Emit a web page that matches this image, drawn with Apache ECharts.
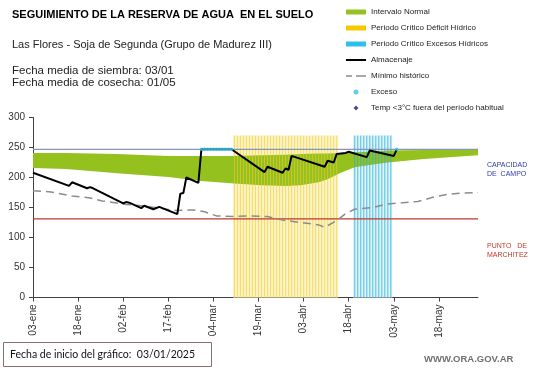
<!DOCTYPE html>
<html><head><meta charset="utf-8">
<script src="https://cdn.jsdelivr.net/npm/echarts@6/dist/echarts.min.js"></script>
<style>html,body{margin:0;padding:0;background:#fff}#c{width:541px;height:368px}</style>
</head><body><div id="c"></div>
<script>
// ---------- DATA ----------
const MONTHS = ['ene','feb','mar','abr','may','jun','jul','ago','sep','oct','nov','dic'];
const firstDate = [2025, 0, 3];   // 03/01/2025
const dayCount = 149;             // 03-ene .. 31-may

const yTicks = [0, 50, 100, 150, 200, 250, 300];

// Intervalo normal (green band)
const bandDates = ['03-ene','14-ene','31-ene','17-feb','28-feb','11-mar','20-mar','28-mar','02-abr','08-abr','11-abr','15-abr','20-abr','25-abr','01-may','13-may','31-may'];
const bandUpper = [241,241,239,236,236,236,237,238,239,240,240,241,242,243,245,246,246];
const bandLower = [216,214,207,201,194,190,187,186,187,192,197,207,217,221,225,231,237];

// Almacenaje
const storeDates = ['03-ene','15-ene','16-ene','21-ene','22-ene','23-ene','02-feb','03-feb','04-feb','08-feb','09-feb','12-feb','14-feb','20-feb','21-feb','22-feb','23-feb','27-feb','28-feb','10-mar','21-mar','22-mar','27-mar','28-mar','29-mar','30-mar','10-abr','11-abr','13-abr','14-abr','17-abr','18-abr','24-abr','25-abr','03-may','04-may'];
const storeValues = [208,186,192,182,184,182,157,159,158,149,153,147,151,139,173,174,200,191,247,247,209,218,208,215,213,236,218,228,225,239,241,243,234,245,236,247];

// Mínimo histórico
const minDates = ['03-ene','09-ene','16-ene','22-ene','26-ene','03-feb','08-feb','14-feb','19-feb','25-feb','01-mar','05-mar','11-mar','16-mar','22-mar','27-mar','02-abr','08-abr','10-abr','14-abr','17-abr','20-abr','26-abr','01-may','06-may','11-may','16-may','21-may','25-may','31-may'];
const minValues = [178,176,169,166,161,155,153,149,145,146,143,136,135,136,135,129,125,121,117,128,140,147,150,156,158,160,167,172,174,175];

// Exceso
const excessDates = ['28-feb','01-mar','02-mar','03-mar','04-mar','05-mar','06-mar','07-mar','08-mar','09-mar','10-mar','04-may'];
const excessValues = [247,247,247,247,247,247,247,247,247,247,247,247];

// Temp < 3°C (no occurrences)
const frostDates = [];
const frostValues = [];

// Periodos críticos
const deficitPeriod = ['11-mar','14-abr'];
const excessPeriod = ['20-abr','02-may'];
const periodTop = 270;

// Reference levels
const fieldCapacity = 247;
const wiltingPoint = 131;

// ---------- BUILD ----------
function fmt(d){ return String(d.getUTCDate()).padStart(2,'0') + '-' + MONTHS[d.getUTCMonth()]; }
const categories = [];
for (let i = 0; i < dayCount; i++) categories.push(fmt(new Date(Date.UTC(firstDate[0], firstDate[1], firstDate[2] + i))));
function periodData(p){
  const a = categories.indexOf(p[0]), b = categories.indexOf(p[1]);
  return categories.map((c, i) => (i >= a && i <= b) ? periodTop : null);
}
const pairs = (xs, ys) => xs.map((x, i) => [x, ys[i]]);
const levelLine = v => [[categories[0], v], [categories[categories.length - 1], v]];
const bandBase = pairs(bandDates, bandLower);
const bandDiff = bandDates.map((x, i) => [x, bandUpper[i] - bandLower[i]]);

const FONT = '"Liberation Sans", Arial, sans-serif';
const chart = echarts.init(document.getElementById('c'), null, {renderer: 'canvas'});
chart.setOption({
  animation: false,
  backgroundColor: '#fff',
  grid: {left: 33, right: 63, top: 117.5, bottom: 70.5, containLabel: false, outerBoundsMode: 'none'},
  legend: {
    orient: 'vertical', left: 346, top: 7, padding: 0,
    itemWidth: 20, itemHeight: 5, itemGap: 6, selectedMode: false,
    textStyle: {fontSize: 8, color: '#222', fontFamily: FONT, lineHeight: 10},
    data: [
      {name: 'Intervalo Normal', icon: 'rect', itemStyle: {color: '#95c11f', borderWidth: 0}},
      {name: 'Periodo Crítico Déficit Hídrico', icon: 'rect', itemStyle: {color: '#f5c800', borderWidth: 0}},
      {name: 'Periodo Crítico Excesos Hídricos', icon: 'rect', itemStyle: {color: '#2ec0ec', borderWidth: 0}},
      {name: 'Almacenaje', icon: 'path://M0,0H20V2H0Z', itemStyle: {color: '#000', borderWidth: 0}},
      {name: 'Mínimo histórico', icon: 'path://M0,0H6V1.6H0Z M10,0H20V1.6H10Z', itemStyle: {color: '#8c8c8c', borderWidth: 0}},
      {name: 'Exceso', icon: 'circle', itemStyle: {color: '#33c3ee', borderWidth: 0}},
      {name: 'Temp <3°C fuera del período habitual', icon: 'path://M0,-1L1,0L0,1L-1,0Z', itemStyle: {color: '#1a237e', borderWidth: 0}}
    ]
  },
  xAxis: [{
    type: 'category', data: categories, boundaryGap: false,
    axisLine: {lineStyle: {color: '#404040', width: 1}},
    axisTick: {interval: 14, length: 4, lineStyle: {color: '#404040'}},
    axisLabel: {interval: 14, rotate: 90, fontSize: 10, color: '#333', fontFamily: FONT, margin: 7},
    splitLine: {show: false}
  }, {
    type: 'category', data: categories, boundaryGap: false, show: false
  }],
  yAxis: {
    type: 'value', min: 0, max: 300, interval: 50,
    name: 'Milímetros', nameLocation: 'middle', nameGap: 26, nameRotate: 90,
    nameTextStyle: {fontSize: 6.5, color: '#333', fontFamily: FONT},
    axisLine: {show: true, lineStyle: {color: '#404040', width: 1}},
    axisTick: {show: true, length: 4, lineStyle: {color: '#404040'}},
    axisLabel: {fontSize: 10, color: '#333', fontFamily: FONT, margin: 8,
      customValues: yTicks},
    splitLine: {show: false}
  },
  series: [
    {name: 'fillDef', type: 'bar', xAxisIndex: 1, stack: 'fill', barWidth: 3, silent: true, z: 1,
      itemStyle: {color: '#fcf3c2'}, data: periodData(deficitPeriod)},
    {name: 'fillExc', type: 'bar', xAxisIndex: 1, stack: 'fill', barWidth: 3, silent: true, z: 1,
      itemStyle: {color: '#d8f0f8'}, data: periodData(excessPeriod)},
    {name: 'bandBase', type: 'line', stack: 'band', symbol: 'none', z: 2, silent: true,
      lineStyle: {width: 0, opacity: 0}, data: bandBase},
    {name: 'Intervalo Normal', type: 'line', stack: 'band', symbol: 'none', z: 2,
      lineStyle: {width: 0, opacity: 0}, itemStyle: {color: '#95c11f'},
      areaStyle: {color: '#95c11f', opacity: 1}, data: bandDiff},
    {name: 'Periodo Crítico Déficit Hídrico', type: 'bar', stack: 'lines', barWidth: 1, z: 3,
      itemStyle: {color: 'rgba(242,205,50,0.6)'}, data: periodData(deficitPeriod)},
    {name: 'Periodo Crítico Excesos Hídricos', type: 'bar', stack: 'lines', barWidth: 1, z: 3,
      itemStyle: {color: 'rgba(30,175,220,0.7)'}, data: periodData(excessPeriod)},
    {name: 'Capacidad de campo', type: 'line', symbol: 'none', z: 4, silent: true,
      itemStyle: {color: '#8597b8'}, lineStyle: {color: '#8597b8', width: 1.2}, data: levelLine(fieldCapacity)},
    {name: 'Punto de marchitez', type: 'line', symbol: 'none', z: 4, silent: true,
      itemStyle: {color: '#c0392b'}, lineStyle: {color: '#c0392b', width: 1.2}, data: levelLine(wiltingPoint)},
    {name: 'Mínimo histórico', type: 'line', symbol: 'none', z: 4,
      itemStyle: {color: '#8c8c8c'},
      lineStyle: {color: '#8c8c8c', width: 1.5, type: [8, 5]}, data: pairs(minDates, minValues)},
    {name: 'Almacenaje', type: 'line', symbol: 'none', z: 5,
      itemStyle: {color: '#000'}, lineStyle: {color: '#000', width: 2}, data: pairs(storeDates, storeValues)},
    {name: 'Exceso', type: 'scatter', symbol: 'circle', symbolSize: 3.5, z: 6,
      itemStyle: {color: '#33c3ee'}, data: pairs(excessDates, excessValues)},
    {name: 'Temp <3°C fuera del período habitual', type: 'scatter', symbol: 'diamond', symbolSize: 6, z: 6,
      itemStyle: {color: '#1a237e'}, data: pairs(frostDates, frostValues)}
  ],
  graphic: [
    {type: 'text', x: 12, y: 15, style: {text: 'SEGUIMIENTO DE LA RESERVA DE AGUA  EN EL SUELO', font: 'bold 11px ' + FONT, fill: '#000', verticalAlign: 'middle'}},
    {type: 'text', x: 12, y: 45, style: {text: 'Las Flores - Soja de Segunda (Grupo de Madurez III)', font: '11px ' + FONT, fill: '#222', verticalAlign: 'middle'}},
    {type: 'text', x: 12, y: 71, style: {text: 'Fecha media de siembra: 03/01', font: '11.5px ' + FONT, fill: '#222', verticalAlign: 'middle'}},
    {type: 'text', x: 12, y: 83, style: {text: 'Fecha media de cosecha: 01/05', font: '11.5px ' + FONT, fill: '#222', verticalAlign: 'middle'}},
    {type: 'text', x: 487, y: 170, style: {text: 'CAPACIDAD\nDE  CAMPO', font: '7px ' + FONT, fill: '#2f3aa0', verticalAlign: 'middle', lineHeight: 9}},
    {type: 'text', x: 487, y: 251, style: {text: 'PUNTO   DE\nMARCHITEZ', font: '7px ' + FONT, fill: '#c0392b', verticalAlign: 'middle', lineHeight: 9}},
    {type: 'rect', shape: {x: 3.5, y: 342.5, width: 208, height: 24}, style: {fill: 'none', stroke: '#8a6f6f', lineWidth: 1}},
    {type: 'text', x: 10, y: 355, style: {text: 'Fecha de inicio del gráfico:  03/01/2025', font: '10.5px Lato, "Open Sans", sans-serif', fill: '#111', verticalAlign: 'middle'}},
    {type: 'text', x: 424, y: 359, style: {text: 'WWW.ORA.GOV.AR', font: 'bold 9.5px ' + FONT, fill: '#707070', verticalAlign: 'middle'}}
  ]
});
</script>
</body></html>
